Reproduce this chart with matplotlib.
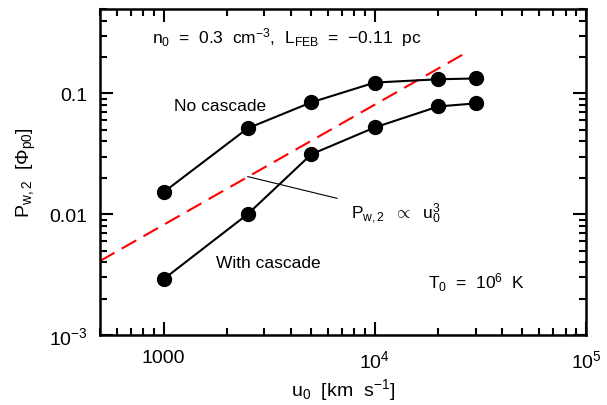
import matplotlib
matplotlib.use("Agg")
import matplotlib.pyplot as plt
from matplotlib.ticker import LogLocator, FixedLocator, FixedFormatter, NullFormatter

plt.rcParams['font.family'] = ['Liberation Sans', 'DejaVu Sans']
plt.rcParams['mathtext.fontset'] = 'custom'
plt.rcParams['mathtext.rm'] = 'Liberation Sans'
plt.rcParams['mathtext.it'] = 'Liberation Sans'
plt.rcParams['mathtext.sf'] = 'Liberation Sans'

# data
u0 = [1000, 2500, 5000, 10000, 20000, 30000]
p_no_cascade = [0.0152, 0.0514, 0.0843, 0.123, 0.131, 0.133]
p_cascade = [0.0029, 0.0100, 0.0313, 0.0523, 0.078, 0.0827]

# red dashed reference line (end points)
u_ref = [500, 28000]
p_ref = [0.0041, 0.225]

x_ticks = [1000, 1e4, 1e5]
x_labels = ['1000', r'10$^4$', r'10$^5$']
y_ticks = [1e-3, 0.01, 0.1]
y_labels = [r'10$^{-3}$', '0.01', '0.1']

fig = plt.figure(figsize=(6.07, 4.06), dpi=100)
ax = fig.add_axes([100/607, 70/406, 486/607, 326/406])

ax.set_xscale('log')
ax.set_yscale('log')
ax.set_xlim(500, 1e5)
ax.set_ylim(1e-3, 0.5)

ax.plot(u_ref, p_ref, color='red', lw=1.5, dashes=(8, 4), zorder=2)
ax.plot(u0, p_no_cascade, color='black', lw=1.5, marker='o', ms=10, zorder=3)
ax.plot(u0, p_cascade, color='black', lw=1.5, marker='o', ms=10, zorder=3)

fs = 12.5
# pointer to the dashed line
ax.annotate(r'P$_{\rm w,2}$  $\propto$  u$_0^3$', xy=(2500, 0.0205), xytext=(7700, 0.0103),
            fontsize=fs, ha='left', va='center',
            arrowprops=dict(arrowstyle='-', color='black', lw=0.8, shrinkA=8, shrinkB=0))

ax.text(0.107, 0.915, r'n$_0$  =  0.3  cm$^{-3}$,  L$_{\rm FEB}$  =  $-$0.11  pc',
        transform=ax.transAxes, ha='left', va='center', fontsize=fs)
ax.text(0.152, 0.705, 'No cascade', transform=ax.transAxes, ha='left', va='center',
        fontsize=fs)
ax.text(0.239, 0.221, 'With cascade', transform=ax.transAxes, ha='left', va='center',
        fontsize=fs)
ax.text(0.675, 0.165, r'T$_0$  =  10$^6$  K', transform=ax.transAxes,
        ha='left', va='center', fontsize=fs)

ax.xaxis.set_major_locator(FixedLocator(x_ticks))
ax.xaxis.set_major_formatter(FixedFormatter(x_labels))
ax.xaxis.set_minor_locator(LogLocator(base=10, subs=range(2, 10)))
ax.xaxis.set_minor_formatter(NullFormatter())
ax.yaxis.set_major_locator(FixedLocator(y_ticks))
ax.yaxis.set_major_formatter(FixedFormatter(y_labels))
ax.yaxis.set_minor_locator(LogLocator(base=10, subs=range(2, 10)))
ax.yaxis.set_minor_formatter(NullFormatter())

ax.tick_params(which='both', direction='in', top=True, right=True, width=1.5)
ax.tick_params(which='major', length=9.5, labelsize=14, pad=9)
ax.tick_params(axis='x', which='major', pad=10)
ax.tick_params(which='minor', length=5)
for s in ax.spines.values():
    s.set_linewidth(1.8)

ax.set_xlabel(r'u$_0$  [km  s$^{-1}$]', fontsize=14)
ax.xaxis.set_label_coords(0.5, -0.125)
ax.set_ylabel(r'P$_{\rm w,2}$  [$\Phi_{\rm p0}$]', fontsize=14, labelpad=8)

fig.savefig('out.png', dpi=100)
